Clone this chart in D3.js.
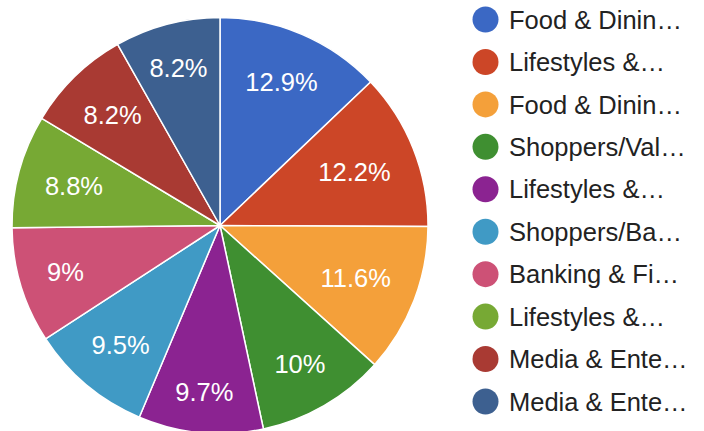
<!DOCTYPE html>
<html>
<head>
<meta charset="utf-8">
<script src="https://cdn.jsdelivr.net/npm/d3@7"></script>
<style>
  html, body { margin: 0; padding: 0; background: #fff; }
  svg { display: block; }
</style>
</head>
<body>
<svg id="chart" width="704" height="431"></svg>
<script>
const categories = [
  "Food & Dinin\u2026",
  "Lifestyles &\u2026",
  "Food & Dinin\u2026",
  "Shoppers/Val\u2026",
  "Lifestyles &\u2026",
  "Shoppers/Ba\u2026",
  "Banking & Fi\u2026",
  "Lifestyles &\u2026",
  "Media & Ente\u2026",
  "Media & Ente\u2026"
];
const values = [12.9, 12.2, 11.6, 10, 9.7, 9.5, 9, 8.8, 8.2, 8.2];
const valueLabels = ["12.9%", "12.2%", "11.6%", "10%", "9.7%", "9.5%", "9%", "8.8%", "8.2%", "8.2%"];
const colors = ["#3b68c4", "#cc4627", "#f4a03a", "#3f8f31", "#8b2391",
                "#409ac5", "#cd5176", "#77a934", "#a93a33", "#3d6090"];

const svg = d3.select("#chart");
const cx = 220, cy = 225.5, R = 208;
const cornerR = 182;     // outer corner of each label box sits on this circle
const boxH = 20;
const fontFamily = "'Liberation Sans', Arial, Helvetica, sans-serif";

const data = values.map((v, i) => ({ name: categories[i], value: v, label: valueLabels[i], color: colors[i] }));

const pie = d3.pie().sort(null).value(d => d.value).startAngle(0).endAngle(2 * Math.PI);
const arcs = pie(data);
const arc = d3.arc().innerRadius(0).outerRadius(R);

const g = svg.append("g").attr("transform", `translate(${cx},${cy})`);

g.selectAll("path.slice")
  .data(arcs)
  .join("path")
  .attr("class", "slice")
  .attr("d", arc)
  .attr("fill", d => d.data.color)
  .attr("stroke", "#ffffff")
  .attr("stroke-width", 1.5)
  .attr("stroke-linejoin", "round");

const labels = g.selectAll("text.lbl")
  .data(arcs)
  .join("text")
  .attr("class", "lbl")
  .attr("text-anchor", "middle")
  .attr("dy", "0.36em")
  .attr("fill", "#ffffff")
  .style("font-family", fontFamily)
  .style("font-size", "25.5px")
  .text(d => d.data.label);

labels.attr("transform", function(d) {
  const a = (d.startAngle + d.endAngle) / 2;
  const ux = Math.sin(a), uy = -Math.cos(a);
  const w = this.getComputedTextLength();
  const c = [Math.sign(ux) * w / 2, Math.sign(uy) * boxH / 2];
  const uc = ux * c[0] + uy * c[1];
  const cc = c[0] * c[0] + c[1] * c[1];
  const t = -uc + Math.sqrt(uc * uc - cc + cornerR * cornerR);
  return `translate(${t * ux},${t * uy})`;
});

// Legend
const legendY = d3.scalePoint().domain(d3.range(data.length)).range([19.5, 401.5]);
const legend = svg.append("g");
const items = legend.selectAll("g.item")
  .data(data)
  .join("g")
  .attr("class", "item")
  .attr("transform", (d, i) => `translate(485.5,${legendY(i)})`);

items.append("circle")
  .attr("r", 13)
  .attr("fill", d => d.color);

items.append("text")
  .attr("x", 23.5)
  .attr("dy", "0.36em")
  .attr("fill", "#222222")
  .style("font-family", fontFamily)
  .style("font-size", "25.5px")
  .text(d => d.name);
</script>
</body>
</html>
